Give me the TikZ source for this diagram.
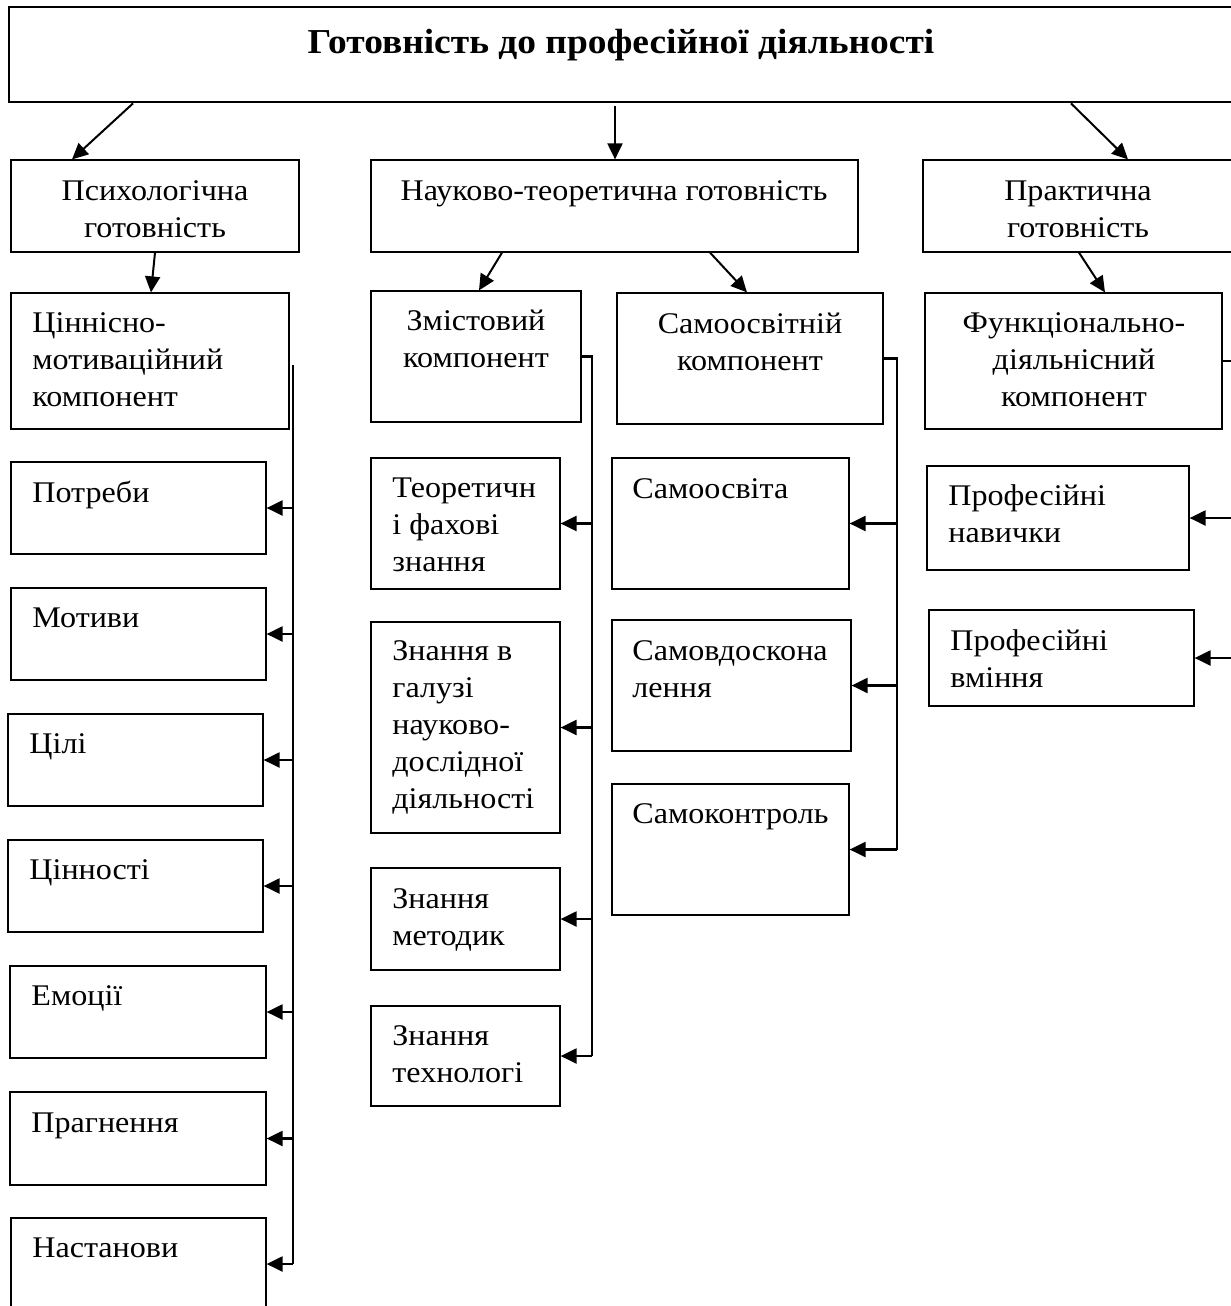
\documentclass[tikz,border=0pt]{standalone}
\usepackage{fontspec}
\setmainfont{Liberation Serif}[FakeStretch=1.07]
\usetikzlibrary{arrows.meta,fit}
\begin{document}
\begin{tikzpicture}[x=0.5pt,y=-0.5pt,
 box/.style={draw,line width=0.6pt,inner sep=0pt,rectangle},
 topbox/.style={draw,line width=1.4pt,inner sep=0pt,rectangle},
 txt/.style={inner sep=0pt,font=\fontsize{15}{18.4}\selectfont,align=left},
 ctxt/.style={inner sep=0pt,font=\fontsize{15}{18.4}\selectfont,align=center},
 ttl/.style={inner sep=0pt,font=\fontsize{17.5}{21}\selectfont\bfseries},
 arr/.style={line width=1pt,-{Triangle[length=8pt,width=7.5pt]}},
 bus/.style={line width=1.2pt},
 barr/.style={line width=1.1pt,-{Triangle[length=8pt,width=7.5pt]}}
]
\clip (0,0) rectangle (1231,1306);
\fill[white] (0,0) rectangle (1231,1306);

% top
\node[topbox, fit={(9,7) (1245,102)}] (top) {};
\node[ttl, anchor=base] (ttlt) at (621,53) {Готовність до професійної діяльності};

% level 2 (base anchor = baseline of last line)
\node[box, fit={(11,160) (299,252)}] (psy) {};
\node[ctxt, anchor=base] (psyt) at (155,237) {Психологічна\\готовність};
\node[box, fit={(371,160) (858,252)}] (sci) {};
\node[ctxt, anchor=base] (scit) at (614,200) {Науково-теоретична готовність};
\node[box, fit={(923,160) (1245,252)}] (pra) {};
\node[ctxt, anchor=base] (prat) at (1078,237) {Практична\\готовність};

% level 3
\node[box, fit={(11,293) (289,429)}] (cmv) {};
\node[txt, anchor=base west] (cmvt) at (32,406) {Ціннісно-\\мотиваційний\\компонент};
\node[box, fit={(371,291) (581,422)}] (zmk) {};
\node[ctxt, anchor=base] (zmkt) at (476,367) {Змістовий\\компонент};
\node[box, fit={(617,293) (883,424)}] (sok) {};
\node[ctxt, anchor=base] (sokt) at (750,370) {Самоосвітній\\компонент};
\node[box, fit={(925,293) (1222,429)}] (fdk) {};
\node[ctxt, anchor=base] (fdkt) at (1074,406) {Функціонально-\\діяльнісний\\компонент};

% left column
\node[box, fit={(11,462) (266,554)}] (potr) {};
\node[txt, anchor=base west] (potrt) at (32,502) {Потреби};
\node[box, fit={(11,588) (266,680)}] (motv) {};
\node[txt, anchor=base west] (motvt) at (32,627) {Мотиви};
\node[box, fit={(8,714) (263,806)}] (cili) {};
\node[txt, anchor=base west] (cilit) at (29,753) {Цілі};
\node[box, fit={(8,840) (263,932)}] (cinn) {};
\node[txt, anchor=base west] (cinnt) at (29,879) {Цінності};
\node[box, fit={(10,966) (266,1058)}] (emoc) {};
\node[txt, anchor=base west] (emoct) at (31,1005) {Емоції};
\node[box, fit={(10,1092) (266,1185)}] (prag) {};
\node[txt, anchor=base west] (pragt) at (31,1132) {Прагнення};
\node[box, fit={(11,1218) (266,1310)}] (nast) {};
\node[txt, anchor=base west] (nastt) at (32,1257) {Настанови};

% middle column
\node[box, fit={(371,458) (560,589)}] (teor) {};
\node[txt, anchor=base west] (teort) at (392,571) {Теоретичн\\і фахові\\знання};
\node[box, fit={(371,622) (560,833)}] (zgal) {};
\node[txt, anchor=base west] (zgalt) at (392,808) {Знання в\\галузі\\науково-\\дослідної\\діяльності};
\node[box, fit={(371,868) (560,970)}] (zmet) {};
\node[txt, anchor=base west] (zmett) at (392,945) {Знання\\методик};
\node[box, fit={(371,1006) (560,1106)}] (ztex) {};
\node[txt, anchor=base west] (ztext) at (392,1082) {Знання\\технологі};

% self column
\node[box, fit={(612,458) (849,589)}] (sosv) {};
\node[txt, anchor=base west] (sosvt) at (632,498) {Самоосвіта};
\node[box, fit={(612,620) (851,751)}] (sovd) {};
\node[txt, anchor=base west] (sovdt) at (632,697) {Самовдоскона\\лення};
\node[box, fit={(612,784) (849,915)}] (sokn) {};
\node[txt, anchor=base west] (soknt) at (632,823) {Самоконтроль};

% right column
\node[box, fit={(927,466) (1189,570)}] (pnav) {};
\node[txt, anchor=base west] (pnavt) at (948,542) {Професійні\\навички};
\node[box, fit={(929,610) (1194,706)}] (pvmi) {};
\node[txt, anchor=base west] (pvmit) at (950,687) {Професійні\\вміння};

% top arrows
\draw[arr] (top.south -| 133,0) -- (psy.north -| 72,0);
\draw[arr] ([yshift=-1.5pt]top.south -| 615,0) -- (sci.north -| 615,0);
\draw[arr] (top.south -| 1071,0) -- (pra.north -| 1128,0);
\draw[arr] (psy.south -| 155,0) -- (cmv.north -| 151,0);
\draw[arr] (sci.south -| 502,0) -- (zmk.north -| 479,0);
\draw[arr] (sci.south -| 710,0) -- (sok.north -| 747,0);
\draw[arr] (pra.south -| 1079,0) -- (fdk.north -| 1105,0);

% buses
\coordinate (b1) at (293,365);
\draw[bus] (b1) -- (b1 |- nast.east);
\foreach \n in {potr,motv,cili,cinn,emoc,prag,nast}
  \draw[barr] (b1 |- \n.east) -- (\n.east);

\coordinate (b2) at (592,0);
\draw[bus] (zmk.east) -| (b2 |- ztex.east);
\foreach \n in {teor,zgal,zmet,ztex}
  \draw[barr] (b2 |- \n.east) -- (\n.east);

\coordinate (b3) at (897,0);
\draw[bus] (sok.east) -| (b3 |- sokn.east);
\foreach \n in {sosv,sovd,sokn}
  \draw[barr] (b3 |- \n.east) -- (\n.east);

\coordinate (b4) at (1240,0);
\draw[bus] (fdk.east) -| (b4 |- pvmi.east);
\foreach \n in {pnav,pvmi}
  \draw[barr] (b4 |- \n.east) -- (\n.east);
\end{tikzpicture}
\end{document}
